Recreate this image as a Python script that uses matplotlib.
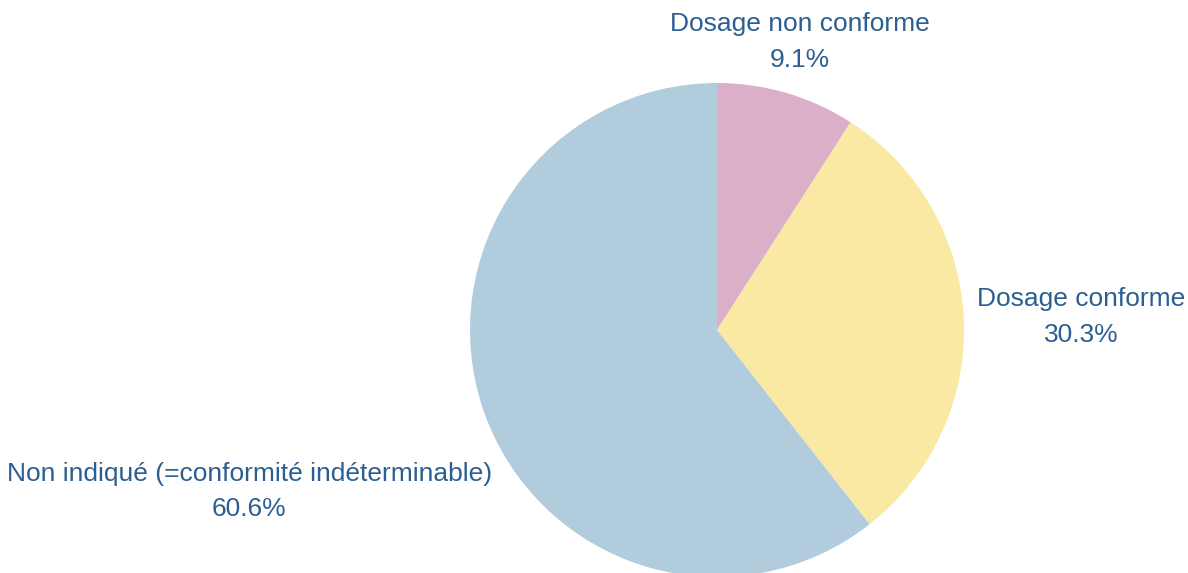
import numpy as np
from matplotlib import pyplot as plt

plt.rcParams['font.family'] = ['Liberation Sans', 'DejaVu Sans']

# données
labels = ['Dosage non conforme', 'Dosage conforme', 'Non indiqué (=conformité indéterminable)']
values = [9.1, 30.3, 60.6]
colors = ['#dbafc7', '#f9e9a3', '#b1cddd']
text_color = '#2c5f91'

# position des étiquettes (coordonnées du camembert, rayon = 1)
label_pos = [(0.336, 1.045, 'center', 'bottom'),
             (1.053, 0.053, 'left', 'center'),
             (-0.911, -0.534, 'right', 'top')]

fig = plt.figure(figsize=(11.88, 5.73), dpi=100)
R, cx, cy = 247, 717, 330
ax = fig.add_axes([(cx - R) / 1188, (573 - cy - R) / 573, 2 * R / 1188, 2 * R / 573])

ax.pie(values, colors=colors, startangle=90, counterclock=False, radius=1,
       wedgeprops={'linewidth': 0})
ax.set_xlim(-1, 1)
ax.set_ylim(-1, 1)
ax.set_aspect('equal')
ax.axis('off')

for lab, val, (x, y, ha, va) in zip(labels, values, label_pos):
    ax.text(x, y, '%s\n%.1f%%' % (lab, val), ha=ha, va=va, multialignment='center',
            fontsize=19, color=text_color, linespacing=1.6, clip_on=False)

plt.savefig('out.png', dpi=100)
